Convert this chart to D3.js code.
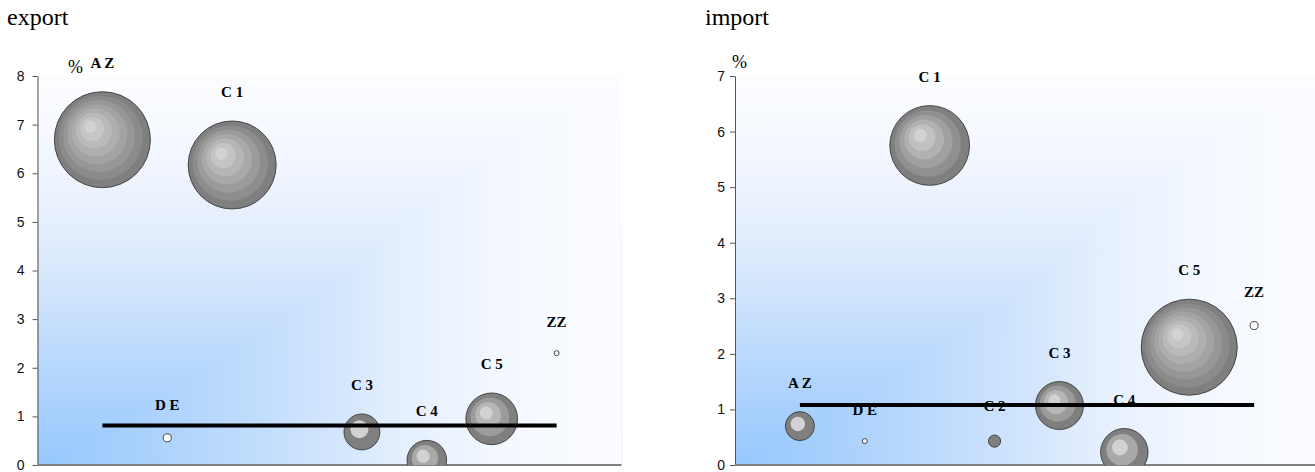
<!DOCTYPE html>
<html>
<head>
<meta charset="utf-8">
<script src="https://cdn.jsdelivr.net/npm/d3@7"></script>
<style>
  html, body { margin: 0; padding: 0; background: #ffffff; }
  svg { display: block; }
</style>
</head>
<body>
<svg id="chart" width="1315" height="472"></svg>
<script>
// ---------------- data ----------------
const categories   = ["AZ", "DE", "C1", "C2", "C3", "C4", "C5", "ZZ"];
const pointLabels  = ["A Z", "D E", "C 1", "C 2", "C 3", "C 4", "C 5", "ZZ"];
const xPositions   = [1, 2, 3, 4, 5, 6, 7, 8];

const exportValues = [6.69, 0.56, 6.17, null, 0.68, 0.10, 0.95, 2.30];
const exportSizes  = [100, 0.7, 84, null, 14, 17, 29, 0.27];
const exportAverage = 0.81;
const exportTicks  = [0, 1, 2, 3, 4, 5, 6, 7, 8];

const importValues = [0.70, 0.43, 5.75, 0.43, 1.07, 0.23, 2.12, 2.51];
const importSizes  = [9.1, 0.27, 69, 1.6, 25, 24.4, 100, 0.7];
const importAverage = 1.08;
const importTicks  = [0, 1, 2, 3, 4, 5, 6, 7];

const panelTitles = ["export", "import"];
const unitLabel = "%";

// ---------------- drawing ----------------
const svg = d3.select("#chart");
const defs = svg.append("defs");

// corner gradient (blue at bottom-left corner) built from two linear ramps
const hStops = [[0, "#96c8fc"], [0.15, "#a6cffc"], [0.3, "#b8d8fc"], [0.49, "#d0e4fc"],
                [0.62, "#e4effe"], [0.8, "#f4f8ff"], [1, "#fbfcff"]];
const vStops = [[0, "#96c8fc"], [0.14, "#a8d0fd"], [0.29, "#bcdafd"], [0.43, "#cfe3fb"],
                [0.57, "#e0ecfd"], [0.71, "#edf3fe"], [0.86, "#f6f9ff"], [1, "#fcfdff"]];

function makeGrad(id, stops, x1, y1, x2, y2) {
  const lg = defs.append("linearGradient").attr("id", id)
    .attr("x1", x1).attr("y1", y1).attr("x2", x2).attr("y2", y2);
  stops.forEach(([o, c]) => lg.append("stop").attr("offset", o).attr("stop-color", c));
}
makeGrad("bgH", hStops, 0, 0, 1, 0);
makeGrad("bgV", vStops, 0, 1, 0, 0);

function drawPanel(opt) {
  const W = 584, H = 389;
  const g = svg.append("g").attr("transform", `translate(${opt.left},${opt.top})`);

  const x = d3.scaleLinear().domain([0, 9]).range([0, W]);
  const y = d3.scaleLinear().domain([0, d3.max(opt.ticks)]).range([H, 0]);
  const r = d3.scaleSqrt().domain([0, d3.max(opt.sizes)]).range([0, 48]);

  // clip
  const cid = "clip-" + opt.id;
  defs.append("clipPath").attr("id", cid).append("rect")
    .attr("x", 0).attr("y", 0).attr("width", W).attr("height", H);

  const bgG = g.append("g").style("isolation", "isolate");
  bgG.append("rect").attr("width", W).attr("height", H).attr("fill", "url(#bgH)");
  bgG.append("rect").attr("width", W).attr("height", H).attr("fill", "url(#bgV)")
    .style("mix-blend-mode", "lighten");

  // y axis
  const ya = g.append("g").call(d3.axisLeft(y).tickValues(opt.ticks)
      .tickFormat(d3.format("d")).tickSize(5).tickSizeOuter(0).tickPadding(opt.pad));
  ya.select(".domain").attr("stroke", "#555").attr("stroke-width", 1);
  ya.selectAll(".tick line").attr("stroke", "#555");
  ya.selectAll(".tick text").attr("font-family", "Liberation Sans, Arial, sans-serif")
    .attr("font-size", 14).attr("fill", "#111");

  // x axis line
  g.append("line").attr("x1", 0).attr("x2", W).attr("y1", H).attr("y2", H)
    .attr("stroke", "#808080").attr("stroke-width", 2);

  const pts = categories.map((c, i) => ({
    cat: c, label: pointLabels[i], xv: xPositions[i], v: opt.values[i], s: opt.sizes[i]
  })).filter(d => d.v != null);

  const bubbles = g.append("g").attr("clip-path", `url(#${cid})`);

  pts.forEach(d => {
    const cx = x(d.xv), cy = y(d.v), rr = r(d.s);
    const bg = bubbles.append("g");
    if (rr < 5) {
      bg.append("circle").attr("cx", cx).attr("cy", cy).attr("r", rr)
        .attr("fill", "#ffffff").attr("stroke", "#444").attr("stroke-width", 1);
      return;
    }
    const n = Math.max(1, Math.floor(rr / 6));
    const col = d3.interpolateRgb("#7f7f7f", "#d2d2d2");
    for (let i = 0; i < n; i++) {
      const f = i / n;
      bg.append("circle")
        .attr("cx", cx - 0.28 * rr * f)
        .attr("cy", cy - 0.3 * rr * f)
        .attr("r", rr * (1 - f))
        .attr("fill", col(n === 1 ? 0 : i / (n - 1)))
        .attr("stroke", i === 0 ? "#3a3a3a" : "none")
        .attr("stroke-width", 0.9);
    }
  });

  // average line
  g.append("line")
    .attr("x1", x(xPositions[0])).attr("x2", x(xPositions[xPositions.length - 1]))
    .attr("y1", y(opt.avg)).attr("y2", y(opt.avg))
    .attr("stroke", "#000").attr("stroke-width", 4);

  // labels
  g.append("g").selectAll("text").data(pts).join("text")
    .attr("x", d => x(d.xv))
    .attr("y", d => y(d.v) - r(d.s) - 24)
    .attr("text-anchor", "middle")
    .attr("font-family", "Liberation Serif, Times New Roman, serif")
    .attr("font-weight", "bold").attr("font-size", 15).attr("fill", "#000")
    .text(d => d.label);

  // unit label
  svg.append("text").attr("x", opt.unitX).attr("y", opt.unitY)
    .attr("font-family", "Liberation Serif, Times New Roman, serif")
    .attr("font-size", 18).attr("fill", "#000").text(unitLabel);

  // title
  svg.append("text").attr("x", opt.titleX).attr("y", 25)
    .attr("font-family", "Liberation Serif, Times New Roman, serif")
    .attr("font-size", 24).attr("fill", "#000").text(opt.title);
}

drawPanel({ id: "exp", left: 37.5, top: 76, values: exportValues, sizes: exportSizes,
  avg: exportAverage, ticks: exportTicks, pad: 8, title: panelTitles[0], titleX: 7,
  unitX: 68, unitY: 73 });
drawPanel({ id: "imp", left: 735, top: 76, values: importValues, sizes: importSizes,
  avg: importAverage, ticks: importTicks, pad: 5, title: panelTitles[1], titleX: 705,
  unitX: 732, unitY: 68 });
</script>
</body>
</html>
